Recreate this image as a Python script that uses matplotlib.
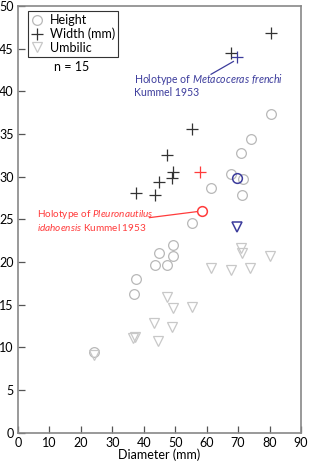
import matplotlib
matplotlib.use("Agg")
import matplotlib.pyplot as plt

plt.rcParams["font.family"] = ["Lato", "DejaVu Sans"]
plt.rcParams["mathtext.fontset"] = "custom"
plt.rcParams["mathtext.rm"] = "Lato"
plt.rcParams["mathtext.it"] = "Lato:italic"

# Height (gray circles)
height_d = [80.4, 74.0, 70.9, 67.7, 71.7, 61.4, 71.1, 55.2, 49.2, 49.4, 44.9, 43.6, 47.5, 37.5, 37.0, 24.3]
height_v = [37.4, 34.4, 32.8, 30.3, 29.7, 28.7, 27.8, 24.6, 22.0, 20.7, 21.1, 19.6, 19.7, 18.0, 16.3, 9.4]
# Width (black crosses)
width_d = [80.5, 67.6, 55.2, 47.4, 49.4, 49.1, 44.8, 37.5, 43.6]
width_v = [46.8, 44.5, 35.6, 32.5, 30.6, 29.8, 29.4, 28.1, 27.9]
# Umbilic (light triangles)
umb_d = [70.9, 71.2, 80.2, 73.8, 67.6, 61.4, 47.5, 49.2, 55.2, 48.9, 43.4, 37.2, 36.7, 44.6, 24.3]
umb_v = [21.6, 21.0, 20.7, 19.3, 19.1, 19.3, 15.9, 14.6, 14.7, 12.4, 12.8, 11.2, 11.1, 10.7, 9.1]

# Holotypes
metac_d, metac_h, metac_w, metac_u = 69.6, 29.9, 44.0, 24.1
pleur_d, pleur_h = 58.4, 26.0
pleur_w_d, pleur_w_v = 57.9, 30.5

BLUE = "#3c3c9c"
RED = "#ff3b3b"

fig = plt.figure(figsize=(3.09, 4.66), dpi=100)
ax = fig.add_axes([0.0583, 0.0715, 0.9157, 0.9156])

ax.plot(height_d, height_v, "o", ms=7, mfc="none", mec="#b8b8b8", mew=0.9, label="Height")
ax.plot(width_d, width_v, "+", ms=9, color="#333333", mew=0.9, label="Width (mm)")
ax.plot(umb_d, umb_v, "v", ms=7.5, mfc="none", mec="#c8c8c8", mew=0.9, label="Umbilic")

ax.plot([metac_d], [metac_h], "o", ms=7, mfc="none", mec=BLUE, mew=1.1)
ax.plot([metac_d], [metac_w], "+", ms=9, color=BLUE, mew=0.9)
ax.plot([metac_d], [metac_u], "v", ms=7.5, mfc="none", mec=BLUE, mew=1.1)
ax.plot([pleur_d], [pleur_h], "o", ms=7, mfc="none", mec=RED, mew=1.1)
ax.plot([pleur_w_d], [pleur_w_v], "+", ms=9, color=RED, mew=0.9)

# annotations (one text per line to keep the tight line spacing)
ax.plot([61.4, 68.5], [42.0, 43.5], color=BLUE, lw=0.9)
ax.text(36.9, 41.33, "Holotype of $Metacoceras\\ frenchi$", color=BLUE,
        fontsize=7.6, va="center", ha="left")
ax.text(36.9, 39.92, "Kummel 1953", color=BLUE, fontsize=7.6, va="center", ha="left")
ax.plot([41.8, 56.8], [25.2, 25.9], color=RED, lw=0.9)
ax.text(5.9, 25.51, "Holotype of $Pleuronautilus$", color=RED,
        fontsize=7.2, va="center", ha="left")
ax.text(5.9, 24.1, "$idahoensis$ Kummel 1953", color=RED,
        fontsize=7.2, va="center", ha="left")

leg = ax.legend(loc="upper left", bbox_to_anchor=(0.035, 0.988), fontsize=9,
                frameon=True, fancybox=False, edgecolor="#333333", framealpha=1,
                handlelength=1.0, handletextpad=0.5, borderpad=0.25, labelspacing=0.12,
                borderaxespad=0)
leg.get_frame().set_linewidth(0.8)
ax.text(11.5, 42.85, "n = 15", fontsize=9, va="center", ha="left")

ax.set_xlim(0, 90)
ax.set_ylim(0, 50)
ax.set_xticks(range(0, 91, 10))
ax.set_yticks(range(0, 51, 5))
ax.tick_params(direction="in", length=5, width=0.9, color="#555555", labelsize=9, pad=3)
for s in ax.spines.values():
    s.set_color("#888888")
    s.set_linewidth(1.2)
ax.set_xlabel("Diameter (mm)", fontsize=9, labelpad=0)

fig.savefig("out.png", dpi=100)
